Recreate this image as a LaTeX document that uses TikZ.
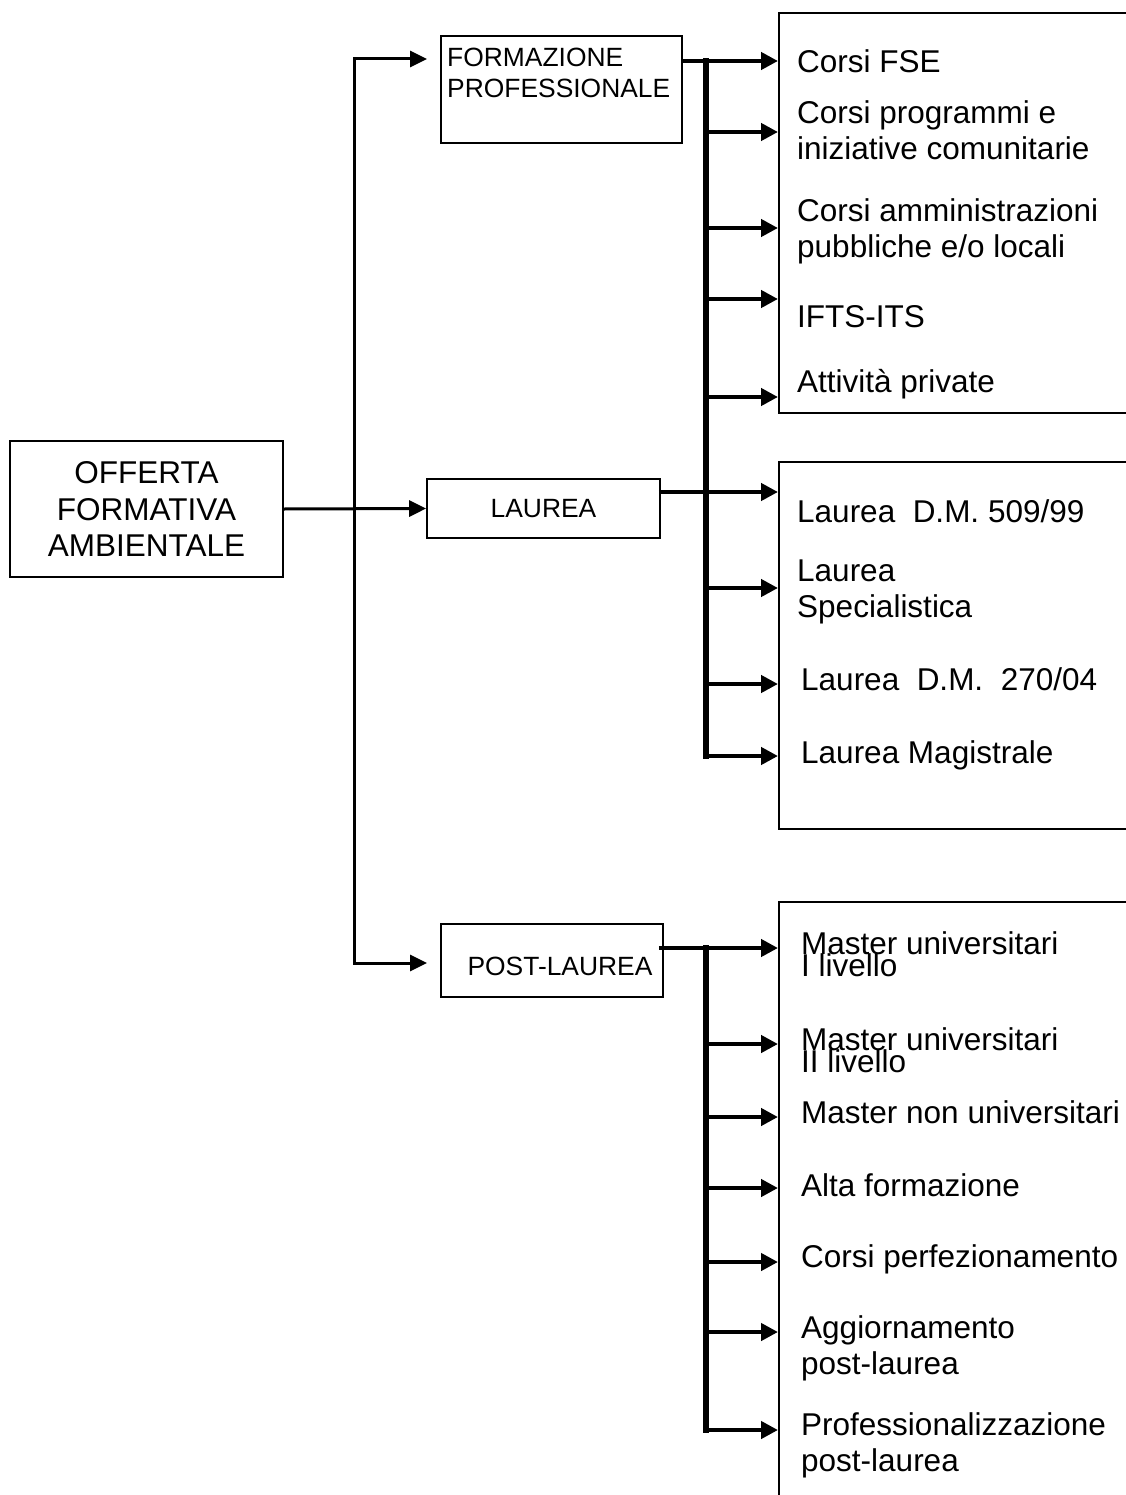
\documentclass[tikz,border=0pt]{standalone}
\usepackage{fontspec}
\setmainfont{Liberation Sans}
\usetikzlibrary{arrows.meta,positioning}
\newcommand{\bigfont}{\fontsize{31.5}{36.2}\selectfont}
\newcommand{\masterfont}{\fontsize{31.5}{22}\selectfont\lineskiplimit=-40pt}
\newcommand{\boxfont}{\fontsize{26.4}{30.4}\selectfont}
\tikzset{
  every node/.style={inner sep=0pt},
  box/.style={draw,line width=1.8pt},
  frame/.style={draw,line width=1.8pt,anchor=north west,minimum width=360pt},
  entry/.style={anchor=west,align=left,font=\bigfont},
  link/.style={line width=3pt,-{Triangle[length=17pt,width=16pt]}},
  bus/.style={line width=4.5pt,-{Triangle[length=17pt,width=17pt]}},
  trunk/.style={line width=6pt,line cap=rect}
}

\begin{document}
\begin{tikzpicture}[x=1pt,y=-1pt]
\useasboundingbox (0,0) rectangle (1125,1495);
% main boxes
\node[box,minimum width=273pt,minimum height=136pt,align=center,font=\bigfont] (root) at (146.5,509) {OFFERTA\\FORMATIVA\\AMBIENTALE};
\node[box,minimum width=241pt,minimum height=107pt] (fp) at (561.5,89.5) {};
\node[anchor=north west,align=left,font=\boxfont] (fptxt) at (447,48) {FORMAZIONE\\PROFESSIONALE};
\node[box,minimum width=233pt,minimum height=59pt,font=\boxfont] (lau) at (543.5,508.5) {LAUREA};
\node[box,minimum width=222pt,minimum height=73pt] (pl) at (552,960.5) {};
\node[font=\boxfont] (pltxt) at (560,966) {POST-LAUREA};
% right frames
\node[frame,minimum height=400pt] (g1) at (778,12) {};
\node[frame,minimum height=367pt] (g2) at (778,461) {};
\node[frame,minimum height=600pt] (g3) at (778,901) {};
% entries
\node[entry] (fse) at (797,61) {Corsi FSE};
\node[entry] (prog) at (797,130) {Corsi programmi e\\iniziative comunitarie};
\node[entry] (amm) at (797,231) {Corsi amministrazioni\\pubbliche e/o locali};
\node[entry] (ifts) at (797,317) {IFTS-ITS};
\node[entry] (priv) at (797,384) {Attività private};
\node[entry] (dm509) at (797,511) {Laurea\ \ D.M. 509/99};
\node[entry] (spec) at (797,592) {Laurea\\Specialistica};
\node[entry] (dm270) at (801,679) {Laurea\ \ D.M.\ \ 270/04};
\node[entry] (mag) at (801,755) {Laurea Magistrale};
\node[entry,font=\masterfont] (mone) at (801,954.5) {Master universitari\\I livello};
\node[entry,font=\masterfont] (mtwo) at (801,1050.5) {Master universitari\\II livello};
\node[entry] (mnon) at (801,1112) {Master non universitari};
\node[entry] (alta) at (801,1185) {Alta formazione};
\node[entry] (perf) at (801,1259) {Corsi perfezionamento};
\node[entry] (agg) at (801,1348) {Aggiornamento\\post-laurea};
\node[entry] (prof) at (801,1445) {Professionalizzazione\\post-laurea};

% spine from the root
\coordinate (sp) at (354,0);
\coordinate (fpin) at (427,59);
\coordinate (plin) at (427,963);
\draw[link] (root.east) -- (lau.west);
\draw[link] (sp |- root.east) |- (fpin);
\draw[link] (sp |- root.east) |- (plin);

% arrow heights on the frames
\coordinate (b1) at (706,0);
\foreach \y [count=\i] in {61,132,228,299,397}
  \coordinate (f\i) at (g1.west |- 0,\y);
\foreach \y [count=\i] in {492,588,684,756}
  \coordinate (l\i) at (g2.west |- 0,\y);
\foreach \y [count=\i] in {948,1044,1117,1188,1262,1332,1430}
  \coordinate (p\i) at (g3.west |- 0,\y);

% formazione + laurea
\draw[trunk] (b1 |- f1) -- (b1 |- l4);
\draw[bus] (fp.east |- f1) -- (f1);
\foreach \i in {2,...,5}
  \draw[bus] (b1 |- f\i) -- (f\i);
\draw[bus] ([xshift=-2pt]lau.east |- l1) -- (l1);
\foreach \i in {2,3,4}
  \draw[bus] (b1 |- l\i) -- (l\i);

% post-laurea
\draw[trunk] (b1 |- p1) -- (b1 |- p7);
\draw[bus] ([xshift=-5pt]pl.east |- p1) -- (p1);
\foreach \i in {2,...,7}
  \draw[bus] (b1 |- p\i) -- (p\i);
\end{tikzpicture}
\end{document}
